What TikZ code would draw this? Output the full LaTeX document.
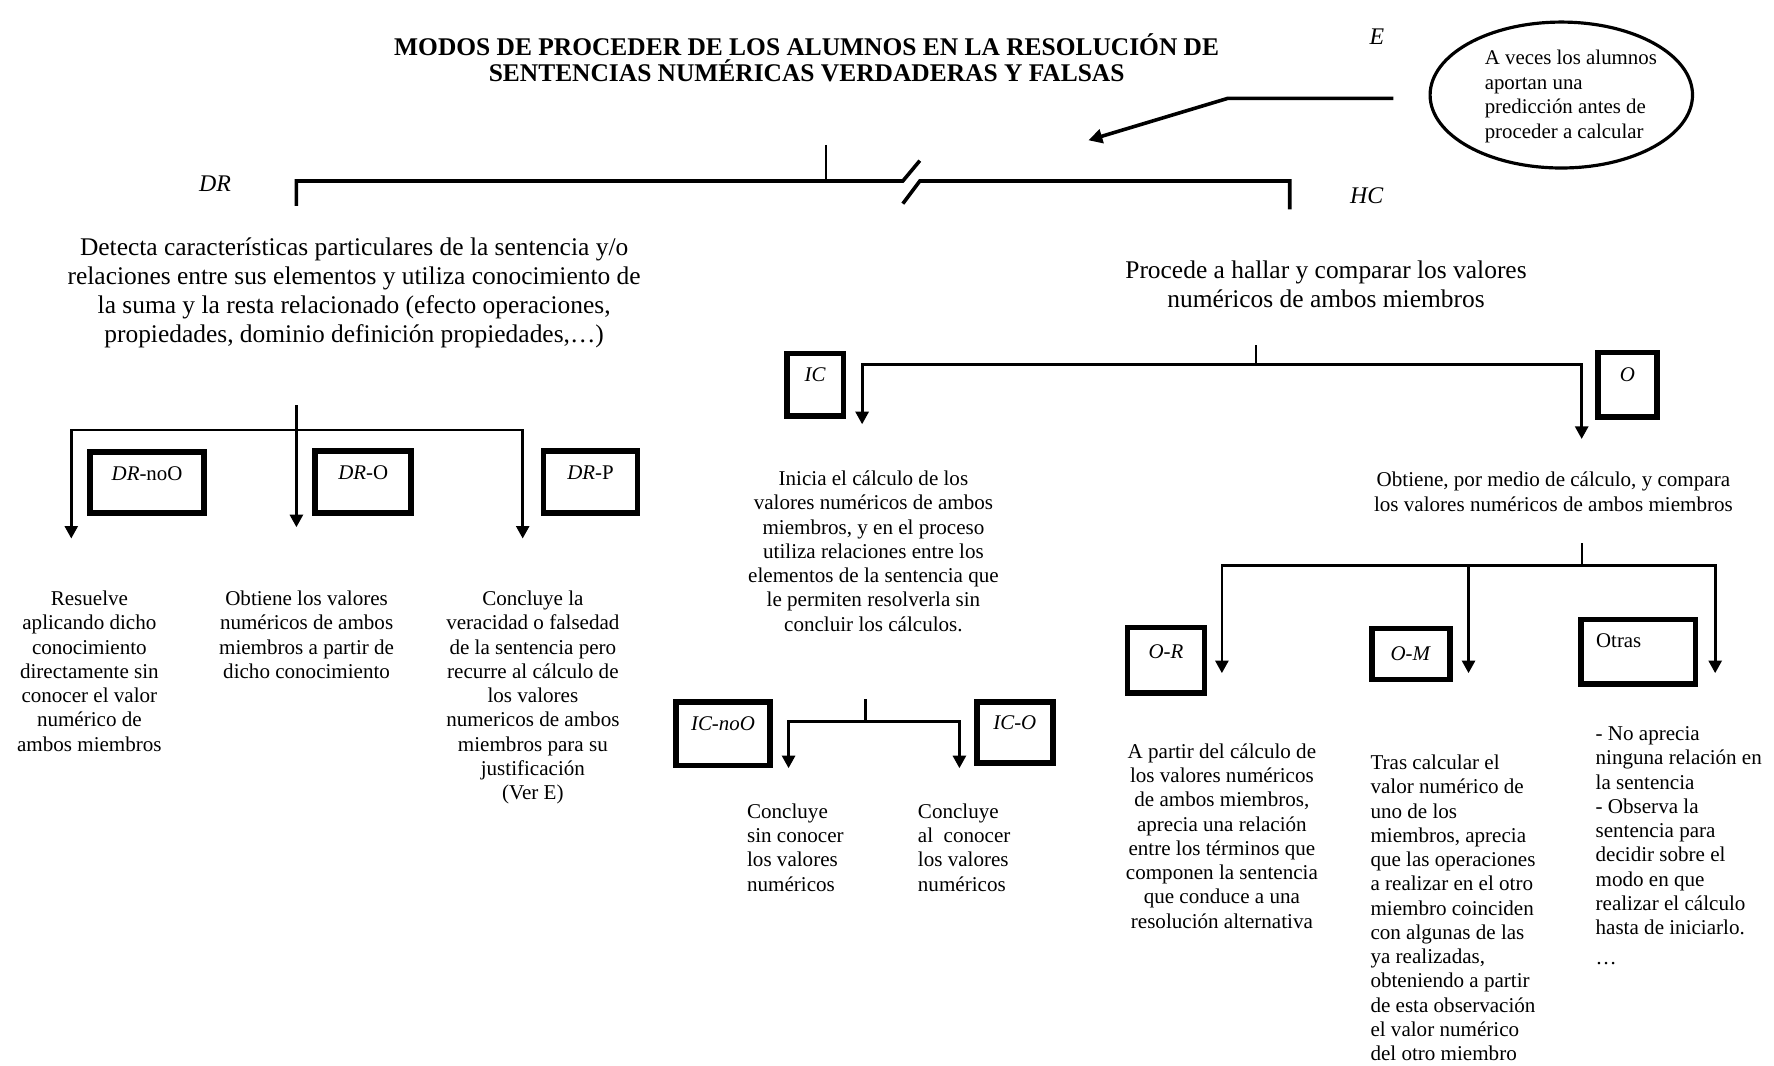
\documentclass[tikz,border=0pt]{standalone}
\usepackage{fontspec}
\setmainfont{Liberation Serif}
\usetikzlibrary{arrows.meta,shapes.geometric}
\begin{document}
\begin{tikzpicture}[x=0.02cm,y=-0.02cm,
  conn/.style={line width=1.4pt},
  arr/.style={line width=1.4pt,-{Triangle[width=6.5pt,length=6.3pt]}},
  stub/.style={line width=1.1pt},
  box/.style={draw,line width=0.1cm,inner sep=0pt,font=\fontsize{10.5}{12}\selectfont},
  small/.style={font=\fontsize{10.6}{12.2}\selectfont,inner sep=0pt},
  big/.style={font=\fontsize{12.8}{14.5}\selectfont,inner sep=0pt},
  tag/.style={font=\fontsize{12}{14}\selectfont\itshape,inner sep=0pt},
]
\useasboundingbox[fill=white] (0,0) rectangle (1568,942);

% title
\node[font=\fontsize{12.8}{13.1}\selectfont\bfseries, align=center, anchor=north, inner sep=0pt] (title) at (713,29)
 {MODOS DE PROCEDER DE LOS ALUMNOS EN LA RESOLUCIÓN DE\\SENTENCIAS NUMÉRICAS VERDADERAS Y FALSAS};

% E and ellipse
\node[tag] (E) at (1217,32) {E};
\node[draw, ellipse, line width=1.6pt, minimum width=4.64cm, minimum height=2.58cm, inner sep=0pt] (ell) at (1380,84) {};
\node[font=\fontsize{10.5}{12.3}\selectfont, inner sep=0pt, align=left, anchor=north west] (etxt) at (1312,44)
 {A veces los alumnos\\aportan una\\predicción antes de\\proceder a calcular};
\coordinate (ek) at (1085,87);
\coordinate (et) at (962,124);
\draw[line width=1.8pt,-{Triangle[width=7pt,length=7pt]}] ([xshift=-0.62cm,yshift=-0.06cm]ell.west) -- (ek) -- (et);

% main bracket
\coordinate (top) at (730,128);
\coordinate (topj) at (730,160);
\coordinate (drc) at (262,182);
\coordinate (hcc) at (1140,185);
\draw[stub] (top) -- (topj);
\draw[line width=1.8pt] (drc) -- (262,160) -- (798,160) -- (813,142);
\draw[line width=1.8pt] (798,180) -- (813,160) -- (1140,160) -- (hcc);
\node[tag] (DR) at (190,162) {DR};
\node[tag] (HC) at (1208,173) {HC};

% DR side
\node[big, align=center, anchor=north] (drtxt) at (313,210)
 {Detecta características particulares de la sentencia y/o\\relaciones entre sus elementos y utiliza conocimiento de\\la suma y la resta relacionado (efecto operaciones,\\propiedades, dominio definición propiedades,\dots)};

\coordinate (drs) at (262,358);
\coordinate (drj) at (262,380);
\coordinate (a1) at (63,476);
\coordinate (a2) at (262,466);
\coordinate (a3) at (462,476);
\draw[arr] (drs) -- (a2);
\draw[arr] (drj) -| (a1);
\draw[arr] (drj) -| (a3);

\node[box, minimum width=2.02cm, minimum height=1.08cm, text height=7pt, text depth=9pt] (bDRnoO) at (130,426.5) {\textit{DR}-noO};
\node[box, minimum width=1.70cm, minimum height=1.10cm, text height=7pt, text depth=9pt] (bDRO) at (321,426) {\textit{DR}-O};
\node[box, minimum width=1.66cm, minimum height=1.10cm, text height=7pt, text depth=9pt] (bDRP) at (522,426) {\textit{DR}-P};

\node[small, align=center, anchor=north] (t1) at (79,522)
 {Resuelve\\aplicando dicho\\conocimiento\\directamente sin\\conocer el valor\\numérico de\\ambos miembros};
\node[small, align=center, anchor=north] (t2) at (271,522)
 {Obtiene los valores\\numéricos de ambos\\miembros a partir de\\dicho conocimiento};
\node[small, align=center, anchor=north] (t3) at (471,522)
 {Concluye la\\veracidad o falsedad\\de la sentencia pero\\recurre al cálculo de\\los valores\\numericos de ambos\\miembros para su\\justificación\\(Ver E)};

% HC side
\node[big, align=center, anchor=north] (hctxt) at (1172,230)
 {Procede a hallar y comparar los valores\\numéricos de ambos miembros};

\coordinate (hcs) at (1110,305);
\coordinate (hcj) at (1110,322);
\coordinate (aic) at (762,375);
\coordinate (ao) at (1398,388);
\draw[stub] (hcs) -- (hcj);
\draw[arr] (hcj) -| (aic);
\draw[arr] (hcj) -| (ao);

\node[box, minimum width=1.00cm, minimum height=1.10cm, text height=7pt, text depth=10pt] (bIC) at (720.5,340) {\textit{IC}};
\node[box, minimum width=1.04cm, minimum height=1.14cm, text height=7pt, text depth=10pt] (bO) at (1438.5,340) {\textit{O}};

\node[small, align=center, anchor=north] (ictxt) at (772,416)
 {Inicia el cálculo de los\\valores numéricos de ambos\\miembros, y en el proceso\\utiliza relaciones entre los\\elementos de la sentencia que\\le permiten resolverla sin\\concluir los cálculos.};
\node[small, align=center, anchor=north] (otxt) at (1373,417)
 {Obtiene, por medio de cálculo, y compara\\los valores numéricos de ambos miembros};

% IC sub-branch
\coordinate (ics) at (765,618);
\coordinate (icj) at (765,638);
\coordinate (aicn) at (697,679);
\coordinate (aico) at (848,679);
\draw[stub] (ics) -- (icj);
\draw[arr] (icj) -| (aicn);
\draw[arr] (icj) -| (aico);

\node[box, minimum width=1.66cm, minimum height=1.12cm, text height=7pt, text depth=10pt] (bICnoO) at (639,648.5) {\textit{IC-noO}};
\node[box, minimum width=1.34cm, minimum height=1.08cm, text height=7pt, text depth=10pt] (bICO) at (897,647.5) {\textit{IC-O}};

\node[small, align=left, anchor=north west] (c1) at (660,710)
 {Concluye\\sin conocer\\los valores\\numéricos};
\node[small, align=left, anchor=north west] (c2) at (811,710)
 {Concluye\\al\ \ conocer\\los valores\\numéricos};

% O sub-branch
\coordinate (os) at (1398,480);
\coordinate (oj) at (1398,500);
\coordinate (aor) at (1080,595);
\coordinate (aom) at (1298,595);
\coordinate (aot) at (1516,595);
\draw[stub] (os) -- (oj);
\draw[arr] (oj) -| (aor);
\draw[arr] (oj) -| (aom);
\draw[arr] (oj) -| (aot);

\node[box, minimum width=1.36cm, minimum height=1.16cm, text height=7pt, text depth=9pt] (bOR) at (1030.5,583.5) {\textit{O-R}};
\node[box, minimum width=1.38cm, minimum height=0.90cm] (bOM) at (1247,578) {\textit{O-M}};
\node[box, minimum width=2.02cm, minimum height=1.14cm, text height=7pt, text depth=11pt, text width=1.7cm, align=left] (bOtras) at (1448,576) {\hspace{3pt}Otras};

\node[small, align=center, anchor=north] (ortxt) at (1080,657)
 {A partir del cálculo de\\los valores numéricos\\de ambos miembros,\\aprecia una relación\\entre los términos que\\componen la sentencia\\que conduce a una\\resolución alternativa};
\node[small, align=left, anchor=north west] (omtxt) at (1211,667)
 {Tras calcular el\\valor numérico de\\uno de los\\miembros, aprecia\\que las operaciones\\a realizar en el otro\\miembro coinciden\\con algunas de las\\ya realizadas,\\obteniendo a partir\\de esta observación\\el valor numérico\\del otro miembro};
\node[small, align=left, anchor=north west] (ottxt) at (1410,642)
 {- No aprecia\\ninguna relación en\\la sentencia\\- Observa la\\sentencia para\\decidir sobre el\\modo en que\\realizar el cálculo\\hasta de iniciarlo.\\[3pt]\dots};
\end{tikzpicture}
\end{document}
